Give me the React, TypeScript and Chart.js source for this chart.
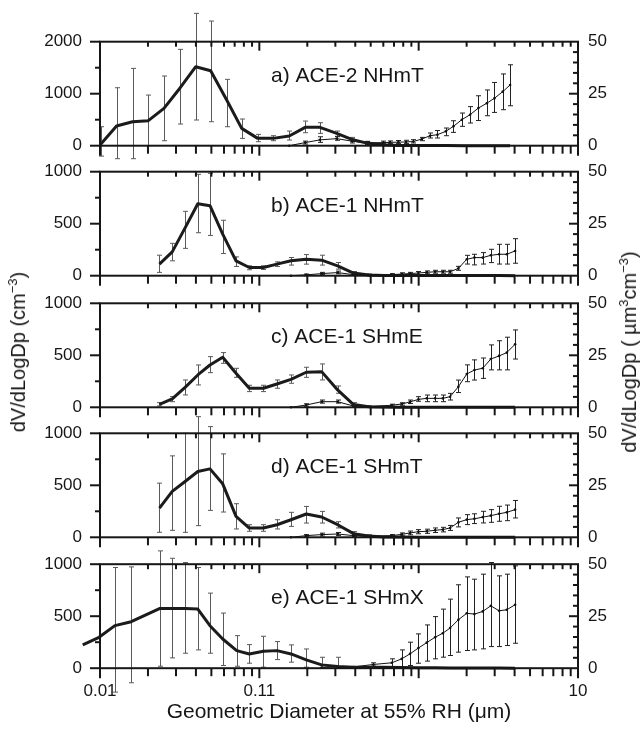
import React, { useEffect, useRef } from "react";
import { Chart, registerables } from "chart.js";

Chart.register(...registerables);

// ---------------- data ----------------
const panelLabels = ["a) ACE-2 NHmT", "b) ACE-1 NHmT", "c) ACE-1 SHmE", "d) ACE-1 SHmT", "e) ACE-1 SHmX"];
const xTickValues = [0.01, 0.1, 10];
const xTickLabels = ["0.01", "0.11", "10"];
const leftTicksA = [0, 1000, 2000];
const leftTicksBE = [0, 500, 1000];
const rightTicks = [0, 25, 50];
const xTitle = "Geometric Diameter at 55% RH (\u03bcm)";

// submicron (mobility) size grids, µm
const subGridA = [0.0101, 0.0127, 0.016, 0.0201, 0.0252, 0.0318, 0.0399, 0.0495, 0.0624, 0.0775, 0.0977, 0.122, 0.154, 0.194, 0.24, 0.306, 0.38, 0.474, 0.598, 0.75, 0.95, 1.2, 1.5, 1.9, 2.4, 3.0, 3.75];
const subGridBD = [0.0236, 0.0284, 0.0342, 0.0411, 0.049, 0.0589, 0.0714, 0.0865, 0.106, 0.129, 0.158, 0.197, 0.246, 0.31, 0.39, 0.485, 0.61, 0.78, 1.0, 1.27, 1.58, 2.0, 2.53, 3.2, 4.03];
const subGridE = [0.00779, 0.00986, 0.0124, 0.0157, 0.0238, 0.0284, 0.0342, 0.0411, 0.049, 0.0589, 0.0721, 0.0865, 0.106, 0.129, 0.158, 0.197, 0.246, 0.31, 0.39, 0.485, 0.61, 0.78, 1.0, 1.27, 1.58, 2.0, 2.53, 3.2, 4.03];
// supermicron (aerodynamic) grids, µm
const volGridA = [0.154, 0.194, 0.24, 0.306, 0.38, 0.474, 0.6, 0.661, 0.746, 0.833, 0.926, 1.046, 1.18, 1.311, 1.48, 1.652, 1.865, 2.102, 2.37, 2.676, 2.987, 3.373, 3.748];
const volGridBD = [0.158, 0.197, 0.246, 0.31, 0.39, 0.485, 0.678, 0.783, 0.883, 0.996, 1.124, 1.268, 1.417, 1.575, 1.775, 2.004, 2.238, 2.526, 2.836, 3.196, 3.573, 4.028];
const volGridE = [0.246, 0.31, 0.39, 0.52, 0.678, 0.783, 0.883, 0.996, 1.124, 1.268, 1.417, 1.575, 1.775, 2.004, 2.238, 2.526, 2.836, 3.196, 3.573, 4.028];

// a) ACE-2 NHmT
const numA = [30, 378, 461, 481, 718, 1110, 1519, 1442, 880, 333, 141, 141, 186, 353, 353, 237, 120, 50, 19, 5, 3, 2, 2, 1, 1, 1, 0];
const numLoA = [-200, -250, -250, 0, 96, 417, 494, 461, 365, 141, 77, 96, 109, 250, 237, 173, 85, 25, 5];
const numHiA = [365, 1115, 1487, 974, 1340, 1853, 2545, 2397, 1276, 513, 218, 192, 282, 474, 442, 282, 160, 85, 35];
const volA = [0, 1.5, 2.8, 3.4, 2.2, 1.3, 1.5, 1.6, 1.7, 1.8, 2.0, 3.2, 4.8, 5.3, 6.9, 9.3, 12.5, 14.9, 18.1, 20.4, 22.8, 26.0, 29.2];
const volLoA = [null, 0.8, 1.6, 2.6, 1.3, 0.6, 0.9, 1.0, 1.0, 1.1, 1.3, 2.4, 3.7, 3.7, 4.8, 6.4, 9.3, 10.9, 12.1, 14.4, 16.0, 17.3, 19.2];
const volHiA = [null, 2.2, 4.3, 4.5, 3.2, 2.0, 2.2, 2.3, 2.5, 2.6, 2.9, 4.0, 6.1, 7.3, 8.5, 12.0, 15.7, 18.8, 24.0, 26.8, 30.4, 34.5, 38.9];

// b) ACE-1 NHmT
const numB = [111, 229, 460, 692, 673, 400, 143, 79, 79, 111, 143, 159, 149, 95, 25, 6, 2, 1, 1, 1, 1, 1, 1, 1, 0];
const numLoB = [32, 143, 263, 413, 387, 213, 89, 57, 60, 89, 102, 111, 102, 63, 10, 0];
const numHiB = [197, 311, 619, 975, 984, 533, 181, 95, 95, 133, 175, 203, 197, 127, 40, 15];
const volB = [0, 0.4, 1.0, 1.5, 0.5, 0.3, 0.5, 0.8, 1.0, 1.3, 1.6, 1.9, 1.9, 1.9, 3.5, 7.9, 8.7, 8.7, 9.8, 10.3, 10.3, 11.9];
const volLoB = [null, 0, 0.5, 0.9, 0.1, 0, 0, 0.3, 0.4, 0.6, 0.9, 1.2, 1.2, 1.2, 2.6, 5.6, 5.2, 5.6, 6.3, 5.6, 5.6, 6.0];
const volHiB = [null, 0.8, 1.6, 2.2, 1.0, 0.7, 1.0, 1.4, 1.6, 2.0, 2.3, 2.6, 2.6, 2.6, 4.5, 9.8, 10.3, 11.1, 12.7, 15.1, 15.1, 17.8];

// c) ACE-1 SHmE
const numC = [29, 80, 192, 311, 407, 481, 327, 183, 183, 224, 269, 337, 343, 167, 26, 5, 2, 1, 1, 1, 1, 1, 1, 1, 0];
const numLoC = [13, 54, 119, 215, 333, 423, 288, 151, 151, 183, 231, 288, 263, 135, 10, 0];
const numHiC = [45, 103, 263, 407, 487, 526, 375, 212, 212, 263, 311, 385, 417, 205, 45, 12];
const volC = [0, 1.1, 2.7, 2.7, 0.6, 0.3, 1.0, 1.6, 2.6, 3.8, 4.3, 4.3, 4.3, 5.1, 9.9, 16.0, 17.9, 18.8, 23.2, 24.7, 26.3, 30.3];
const volLoC = [null, 0.5, 2.0, 2.0, 0.2, 0, 0.5, 1.0, 1.8, 2.9, 2.7, 2.7, 2.7, 3.5, 7.1, 12.3, 13.1, 13.9, 18.0, 18.0, 18.0, 23.2];
const volHiC = [null, 1.7, 3.5, 3.5, 1.0, 0.6, 1.5, 2.2, 3.5, 5.1, 5.9, 5.9, 5.9, 6.7, 13.1, 20.4, 22.8, 23.7, 30.0, 32.0, 33.7, 37.2];

// d) ACE-1 SHmT
const numD = [281, 441, 537, 633, 658, 514, 201, 89, 89, 121, 169, 224, 195, 121, 35, 12, 4, 2, 1, 1, 1, 1, 1, 1, 0];
const numLoD = [48, 67, 48, 112, 259, 243, 80, 58, 58, 80, 105, 137, 137, 90, 15, 0];
const numHiD = [521, 783, 1000, 1160, 1064, 802, 323, 121, 121, 169, 240, 297, 249, 150, 55, 25];
const volD = [0, 0.8, 1.3, 1.6, 0.8, 0.5, 0.8, 1.4, 2.1, 2.7, 2.9, 3.4, 3.7, 4.5, 7.2, 8.5, 8.9, 9.7, 10.4, 11.3, 12.0, 13.3];
const volLoD = [null, 0.3, 0.6, 0.9, 0.3, 0.1, 0.3, 0.7, 1.2, 1.7, 1.9, 2.3, 2.6, 3.3, 5.0, 6.1, 6.6, 6.9, 7.2, 7.7, 8.0, 9.3];
const volHiD = [null, 1.3, 2.0, 2.3, 1.3, 0.9, 1.3, 2.1, 3.0, 3.7, 3.9, 4.5, 4.8, 5.7, 9.3, 10.9, 11.3, 12.5, 13.3, 14.9, 15.5, 17.7];

// e) ACE-1 SHmX
const numE = [224, 297, 409, 447, 575, 575, 575, 569, 409, 281, 169, 137, 163, 169, 137, 80, 32, 16, 10, 8, 8, 6, 5, 4, 3, 2, 1, 1, 0];
const numLoE = [null, null, -230, -140, 19, 99, 144, 176, 144, 26, 19, 48, 10, 83, 58, 10, 0, 0];
const numHiE = [null, null, 968, 974, 1128, 1057, 1016, 968, 722, 530, 313, 227, 307, 256, 224, 185, 105, 105];
const volE = [0.3, 0.8, 0.6, 1.8, 2.6, 4.5, 6.9, 9.7, 12.3, 14.9, 16.8, 19.3, 23.3, 26.4, 26.0, 27.3, 30.0, 27.6, 28.1, 30.5];
const volLoE = [null, null, null, 1.0, 0.5, 0.2, 1.3, 2.4, 3.4, 4.5, 5.3, 6.1, 7.7, 8.5, 8.8, 9.3, 10.4, 10.4, 10.9, 12.0];
const volHiE = [null, null, null, 2.6, 4.5, 8.8, 12.5, 16.5, 20.8, 24.8, 28.4, 33.2, 40.1, 43.9, 42.8, 45.2, 50.8, 44.4, 45.2, 49.2];

type Arr = (number | null)[];
interface Panel {
  label: string; leftTicks: number[];
  nx: number[]; n: number[]; nLo: Arr; nHi: Arr;
  vx: number[]; v: number[]; vLo: Arr; vHi: Arr;
}

const PANELS: Panel[] = [
  { label: panelLabels[0], leftTicks: leftTicksA, nx: subGridA, n: numA, nLo: numLoA, nHi: numHiA, vx: volGridA, v: volA, vLo: volLoA, vHi: volHiA },
  { label: panelLabels[1], leftTicks: leftTicksBE, nx: subGridBD, n: numB, nLo: numLoB, nHi: numHiB, vx: volGridBD, v: volB, vLo: volLoB, vHi: volHiB },
  { label: panelLabels[2], leftTicks: leftTicksBE, nx: subGridBD, n: numC, nLo: numLoC, nHi: numHiC, vx: volGridBD, v: volC, vLo: volLoC, vHi: volHiC },
  { label: panelLabels[3], leftTicks: leftTicksBE, nx: subGridBD, n: numD, nLo: numLoD, nHi: numHiD, vx: volGridBD, v: volD, vLo: volLoD, vHi: volHiD },
  { label: panelLabels[4], leftTicks: leftTicksBE, nx: subGridE, n: numE, nLo: numLoE, nHi: numHiE, vx: volGridE, v: volE, vLo: volLoE, vHi: volHiE },
];

// ---------------- layout ----------------
const W = 643;
const H = 739;
const PLOT_L = 100;
const PLOT_R = 578;
const PANEL_TOPS = [41.7, 171.7, 303.3, 433.3, 564.2];
const PANEL_H = 104;
const X_MIN = 0.01;
const X_MAX = 10;
const FONT = '"Liberation Sans", Arial, Helvetica, sans-serif';
const INK = "#161616";

const errorBarPlugin = {
  id: "errbars",
  beforeDatasetsDraw(chart: any) {
    const ctx = chart.ctx;
    chart.data.datasets.forEach((ds: any, di: number) => {
      if (!ds.errLo) return;
      const meta = chart.getDatasetMeta(di);
      const ys = chart.scales[ds.yAxisID];
      ctx.save();
      ctx.strokeStyle = ds.errColor;
      ctx.lineWidth = ds.errWidth;
      meta.data.forEach((pt: any, i: number) => {
        const lo = ds.errLo[i];
        const hi = ds.errHi[i];
        if (lo == null || hi == null) return;
        const x = Math.round(pt.x) + 0.5;
        const y1 = ys.getPixelForValue(lo);
        const y2 = ys.getPixelForValue(hi);
        ctx.beginPath();
        ctx.moveTo(x, y1); ctx.lineTo(x, y2);
        ctx.moveTo(x - 2.5, y1); ctx.lineTo(x + 2.5, y1);
        ctx.moveTo(x - 2.5, y2); ctx.lineTo(x + 2.5, y2);
        ctx.stroke();
      });
      ctx.restore();
    });
  },
};

function makeFramePlugin(p: Panel) {
  return {
    id: "frame",
    afterDatasetsDraw(chart: any) {
      const { ctx, chartArea: a, scales } = chart;
      const xs = scales.x, yl = scales.yL, yr = scales.yR;
      ctx.save();
      ctx.strokeStyle = INK;
      ctx.lineWidth = 2;
      const seg = (x1: number, y1: number, x2: number, y2: number) => {
        ctx.beginPath(); ctx.moveTo(x1, y1); ctx.lineTo(x2, y2); ctx.stroke();
      };
      ctx.strokeRect(a.left, a.top, a.right - a.left, a.bottom - a.top);
      // log x ticks (top inward, bottom outward)
      for (let d = -2; d <= 1; d++) {
        for (let m = 1; m <= 9; m++) {
          const v = m * Math.pow(10, d);
          if (v < 0.0099 || v > 10.01) continue;
          const px = xs.getPixelForValue(v);
          const major = m === 1;
          seg(px, a.top, px, a.top + (major ? 9 : 5));
          seg(px, a.bottom, px, a.bottom + (major ? 10 : 8));
        }
      }
      // left axis
      const lt = p.leftTicks;
      lt.forEach((v, i) => {
        const py = yl.getPixelForValue(v);
        seg(a.left - 10, py, a.left, py);
        if (i < lt.length - 1) {
          const pm = yl.getPixelForValue((v + lt[i + 1]) / 2);
          seg(a.left - 5, pm, a.left, pm);
        }
      });
      // right axis
      for (let v = 5; v < 50; v += 5) {
        const py = yr.getPixelForValue(v);
        seg(a.right - (v === 25 ? 9 : 5), py, a.right, py);
      }
      // panel label
      ctx.fillStyle = INK;
      ctx.font = `21px ${FONT}`;
      ctx.textBaseline = "alphabetic";
      ctx.textAlign = "left";
      ctx.fillText(p.label, 271, a.top + 40);
      ctx.restore();
    },
  };
}

function makeChart(canvas: HTMLCanvasElement, p: Panel, idx: number) {
  const top = PANEL_TOPS[idx];
  const bottom = top + PANEL_H;
  const tickFont = { family: FONT, size: 17 };
  return new Chart(canvas, {
    type: "line",
    data: {
      datasets: [
        {
          data: p.nx.map((x, k) => ({ x, y: p.n[k] })),
          yAxisID: "yL",
          borderColor: "#1b1b1b",
          borderWidth: 3,
          borderJoinStyle: "round",
          pointRadius: 0,
          tension: 0,
          clip: false,
          errLo: p.nLo, errHi: p.nHi, errColor: "#5a5a5a", errWidth: 1,
        } as any,
        {
          data: p.vx.map((x, k) => ({ x, y: p.v[k] })),
          yAxisID: "yR",
          borderColor: "#111",
          borderWidth: 1,
          pointRadius: 1.3,
          pointBorderWidth: 0,
          pointBackgroundColor: "#111",
          tension: 0,
          clip: false,
          errLo: p.vLo, errHi: p.vHi, errColor: "#222", errWidth: 1,
        } as any,
      ],
    },
    options: {
      responsive: false,
      animation: false,
      devicePixelRatio: 1,
      events: [],
      layout: { padding: { top, bottom: 0, left: 0, right: 0 } },
      plugins: { legend: { display: false }, tooltip: { enabled: false }, title: { display: false } },
      scales: {
        x: {
          type: "logarithmic",
          position: "bottom",
          grid: { display: false, drawTicks: false },
          border: { display: false },
          afterDataLimits: (s: any) => { s.min = X_MIN; s.max = X_MAX; },
          afterBuildTicks: (s: any) => { s.ticks = xTickValues.map((v) => ({ value: v })); },
          afterFit: (s: any) => { s.height = H - bottom; },
          ticks: {
            display: idx === PANELS.length - 1,
            autoSkip: false,
            maxRotation: 0,
            padding: 13,
            color: INK,
            font: tickFont,
            callback: (_v: any, i: number) => xTickLabels[i],
          },
        },
        yL: {
          type: "linear",
          position: "left",
          min: 0,
          max: p.leftTicks[p.leftTicks.length - 1],
          grid: { display: false, drawTicks: false },
          border: { display: false },
          afterBuildTicks: (s: any) => { s.ticks = p.leftTicks.map((v) => ({ value: v })); },
          afterFit: (s: any) => { s.width = PLOT_L; },
          ticks: { padding: 18, color: INK, font: tickFont, callback: (v: any) => String(v) },
        },
        yR: {
          type: "linear",
          position: "right",
          min: 0,
          max: 50,
          grid: { display: false, drawTicks: false },
          border: { display: false },
          afterBuildTicks: (s: any) => { s.ticks = rightTicks.map((v) => ({ value: v })); },
          afterFit: (s: any) => { s.width = W - PLOT_R; },
          ticks: { padding: 10, color: INK, font: tickFont, callback: (v: any) => String(v) },
        },
      },
    } as any,
    plugins: [errorBarPlugin, makeFramePlugin(p)],
  });
}

const supStyle: React.CSSProperties = { fontSize: "0.65em", verticalAlign: "0.6em", lineHeight: 0 };

export default function App() {
  const refs = useRef<(HTMLCanvasElement | null)[]>([]);
  useEffect(() => {
    const charts = PANELS.map((p, i) => makeChart(refs.current[i] as HTMLCanvasElement, p, i));
    return () => charts.forEach((c) => c.destroy());
  }, []);

  const rot: React.CSSProperties = {
    position: "absolute",
    transform: "translate(-50%, -50%) rotate(-90deg)",
    whiteSpace: "nowrap",
    fontSize: 20,
    lineHeight: "24px",
  };

  return (
    <div style={{ position: "fixed", left: 0, top: 0, width: W, height: H, background: "#fff", fontFamily: FONT, color: INK, overflow: "hidden" }}>
      {PANELS.map((p, i) => (
        <canvas
          key={p.label}
          ref={(el) => { refs.current[i] = el; }}
          width={W}
          height={H}
          style={{ position: "absolute", left: 0, top: 0, width: W, height: H }}
        />
      ))}
      <div style={{ ...rot, left: 18, top: 352 }}>
        dV/dLogDp (cm<sup style={supStyle}>−3</sup>)
      </div>
      <div style={{ ...rot, left: 629, top: 352 }}>
        dV/dLogDp ( µm<sup style={supStyle}>3</sup>cm<sup style={supStyle}>−3</sup>)
      </div>
      <div style={{ position: "absolute", left: 339, top: 711, transform: "translate(-50%, -50%)", whiteSpace: "nowrap", fontSize: 21 }}>
        {xTitle}
      </div>
    </div>
  );
}
